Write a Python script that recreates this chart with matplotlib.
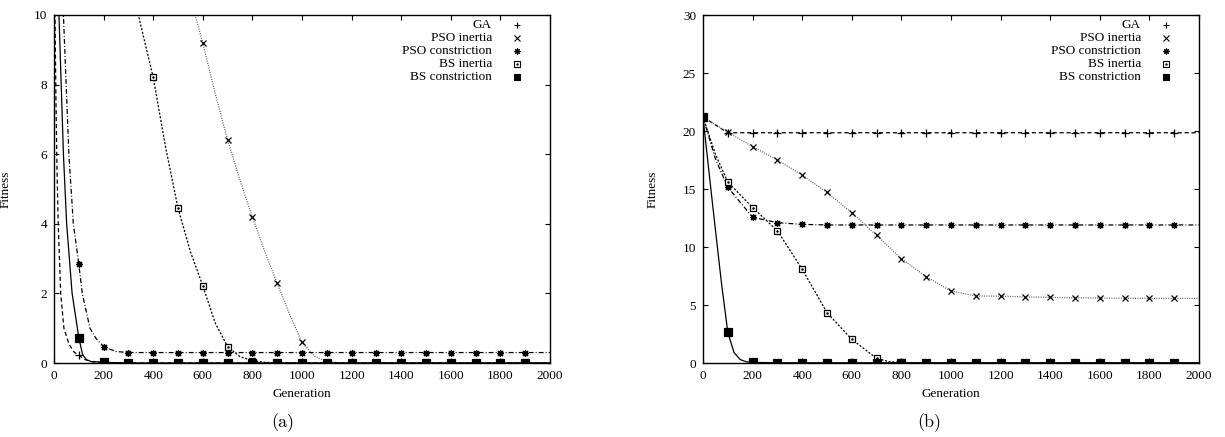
import matplotlib
matplotlib.use("Agg")
import matplotlib.pyplot as plt
import numpy as np

plt.rcParams["font.family"] = ["Liberation Serif", "DejaVu Serif"]
plt.rcParams["font.size"] = 9.5
plt.rcParams["lines.scale_dashes"] = False

labels = ["GA", "PSO inertia", "PSO constriction", "BS inertia", "BS constriction"]

# sampled every 100 generations (0 .. 2000)
gens = list(range(0, 2001, 100))

# ---- panel (a): best fitness, zoomed to 0..10 ----
ga_a = [30, 0.22, 0.01] + [0.0] * 18
psoi_a = [21, 19.2, 17.4, 15.6, 13.8, 11.8, 9.19, 6.41, 4.19, 2.29, 0.59,
          0.04] + [0.0] * 9
psoc_a = [30, 2.84, 0.47] + [0.30] * 18
bsi_a = [21, 18.5, 16, 11.3, 8.21, 4.45, 2.22, 0.47, 0.07, 0.005] + [0.0] * 11
bsc_a = [22, 0.73, 0.02] + [0.0] * 18

# extra readings on the steep parts of the curves
ga_a_fx, ga_a_fy = [4, 8, 12, 17, 27, 40, 60, 80, 125, 150], [10, 7.5, 5.6, 4.0, 2.0, 1.0, 0.55, 0.32, 0.1, 0.04]
psoi_a_fx, psoi_a_fy = [569, 650, 750, 850, 950, 1050, 1150], [10, 7.75, 5.25, 3.2, 1.4, 0.2, 0.01]
psoc_a_fx, psoc_a_fy = [38, 60, 78, 114, 145, 170, 250], [10, 6, 4, 2.0, 1.0, 0.7, 0.33]
bsi_a_fx, bsi_a_fy = [340, 450, 550, 650, 750, 850], [10, 6.2, 3.2, 1.15, 0.18, 0.02]
bsc_a_fx, bsc_a_fy = [20, 38, 51, 73, 115, 130, 150], [10, 6, 4, 2, 0.25, 0.1, 0.04]

# ---- panel (b): full range 0..30 ----
ga_b = [21.2] + [19.85] * 20
psoi_b = [21.2, 19.9, 18.65, 17.5, 16.2, 14.7, 12.96, 11.0, 9.0, 7.44, 6.2,
          5.78, 5.76, 5.7, 5.66, 5.62, 5.6, 5.58, 5.57, 5.57, 5.57]
psoc_b = [21.2, 15.15, 12.56, 12.1, 11.95] + [11.9] * 16
bsi_b = [21.2, 15.6, 13.4, 11.4, 8.08, 4.34, 2.04, 0.4, 0.05] + [0.0] * 12
bsc_b = [21.2, 2.65, 0.05] + [0.02] * 18

ga_b_fx, ga_b_fy = [], []
psoi_b_fx, psoi_b_fy = [], []
psoc_b_fx, psoc_b_fy = [50], [17.6]
bsi_b_fx, bsi_b_fy = [50, 750, 850], [18.0, 0.12, 0.01]
bsc_b_fx, bsc_b_fy = [25, 50, 75, 125, 150, 175], [16.3, 11.5, 6.8, 0.9, 0.3, 0.1]

styles = [
    dict(ls=(0, (3, 2)), color="black", marker="+", ms=5.5),
    dict(ls=(0, (0.7, 1.0)), color="0.35", marker="x", ms=4.5),
    dict(ls=(0, (3.5, 1.5, 0.7, 1.5)), color="black", marker=(8, 2, 0), ms=5),
    dict(ls=(0, (1.5, 1.2)), color="black", marker="s", ms=5),
    dict(ls="-", color="black", marker="s", ms=5.3),
]


def draw_series(ax, y, fx, fy, st, filled):
    x = np.array(gens + fx, float)
    yy = np.array(y + fy, float)
    order = np.argsort(x)
    ax.plot(x[order], yy[order], ls=st["ls"], color=st["color"], lw=0.9)
    # symbols every 100 generations, up to 1900
    mx = np.array(gens[:-1], float)
    my = np.array(y[:-1], float)
    ax.plot(mx, my, marker=st["marker"], ms=st["ms"], mew=0.9, ls="none",
            mec="black", mfc="black" if filled else "white")
    if st["marker"] == "s" and not filled:
        ax.plot(mx, my, marker=".", ms=1.6, ls="none", color="black")


def draw_key(ax):
    for i, (lab, st) in enumerate(zip(labels, styles)):
        yy = 0.971 - i * 0.0375
        ax.text(0.883, yy, lab, transform=ax.transAxes, ha="right", va="center",
                fontsize=9.5)
        filled = i == 4
        ax.plot([0.934], [yy], transform=ax.transAxes, marker=st["marker"],
                ms=st["ms"] * 0.85, mew=0.8, ls="none", mec="black",
                mfc="black" if filled else "white", clip_on=False)
        if i == 3:
            ax.plot([0.934], [yy], transform=ax.transAxes, marker=".", ms=1.4,
                    color="black", clip_on=False)


def style_axes(ax, ymax, ystep, ylab_x):
    ax.set_xlim(0, 2000)
    ax.set_ylim(0, ymax)
    ax.set_xticks(np.arange(0, 2001, 200))
    ax.set_yticks(np.arange(0, ymax + 0.1, ystep))
    ax.tick_params(direction="in", top=True, right=True, length=3.5, width=0.8,
                   pad=5, labelsize=9.5)
    for s in ax.spines.values():
        s.set_linewidth(1.0)
    ax.set_xlabel("Generation", fontsize=9.5)
    ax.set_ylabel("Fitness", fontsize=9.5)
    ax.xaxis.set_label_coords(0.5, -0.072)
    ax.yaxis.set_label_coords(ylab_x, 0.5)


fig = plt.figure(figsize=(12.25, 4.37), dpi=100)
ax_a = fig.add_axes((54 / 1225, 74 / 437, 496 / 1225, 348 / 437))
ax_b = fig.add_axes((703 / 1225, 74 / 437, 496 / 1225, 348 / 437))

series_a = [(ga_a, ga_a_fx, ga_a_fy), (psoi_a, psoi_a_fx, psoi_a_fy),
            (psoc_a, psoc_a_fx, psoc_a_fy), (bsi_a, bsi_a_fx, bsi_a_fy),
            (bsc_a, bsc_a_fx, bsc_a_fy)]
series_b = [(ga_b, ga_b_fx, ga_b_fy), (psoi_b, psoi_b_fx, psoi_b_fy),
            (psoc_b, psoc_b_fx, psoc_b_fy), (bsi_b, bsi_b_fx, bsi_b_fy),
            (bsc_b, bsc_b_fx, bsc_b_fy)]

for i, (y, fx, fy) in enumerate(series_a):
    draw_series(ax_a, y, fx, fy, styles[i], i == 4)
for i, (y, fx, fy) in enumerate(series_b):
    draw_series(ax_b, y, fx, fy, styles[i], i == 4)

style_axes(ax_a, 10, 2, -0.085)
style_axes(ax_b, 30, 5, -0.09)
draw_key(ax_a)
draw_key(ax_b)

fig.text(283 / 1225, 1 - 423 / 437, "(a)", family="cmr10", fontsize=13,
         ha="center", va="center")
fig.text(929 / 1225, 1 - 423 / 437, "(b)", family="cmr10", fontsize=13,
         ha="center", va="center")

fig.savefig("out.png", dpi=100)
